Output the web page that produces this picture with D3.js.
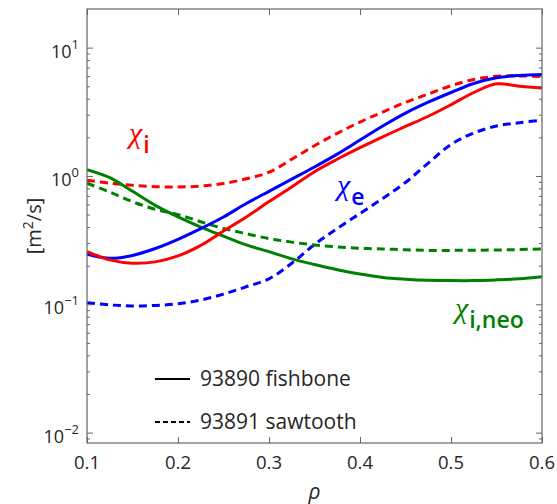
<!DOCTYPE html>
<html><head><meta charset="utf-8">
<script src="https://cdn.jsdelivr.net/npm/d3@7"></script>
<style>
body{margin:0;background:#fff;}
text{font-family:"Open Sans",sans-serif;}
</style></head>
<body>
<svg id="c" width="557" height="504"></svg>
<script>
const rho = [0.100,0.125,0.150,0.175,0.200,0.225,0.250,0.275,0.300,0.325,0.350,0.375,0.400,0.425,0.450,0.475,0.500,0.525,0.550,0.575,0.600];
const chiI_fish = [0.257,0.222,0.209,0.214,0.238,0.288,0.372,0.479,0.631,0.822,1.08,1.35,1.66,2.02,2.43,2.92,3.59,4.47,5.22,5.01,4.84];
const chiI_saw  = [0.926,0.88,0.845,0.825,0.82,0.835,0.875,0.95,1.07,1.35,1.72,2.15,2.63,3.15,3.75,4.35,5.05,5.65,5.98,6.02,5.95];
const chiE_fish = [0.246,0.228,0.24,0.272,0.321,0.389,0.479,0.61,0.759,0.944,1.175,1.48,1.905,2.45,3.09,3.76,4.47,5.25,5.82,6.07,6.17];
const chiE_saw  = [0.103,0.099,0.097,0.098,0.101,0.108,0.12,0.137,0.158,0.209,0.292,0.39,0.51,0.668,0.89,1.26,1.76,2.16,2.45,2.6,2.72];
const chiNeo_fish = [1.12,0.97,0.76,0.59,0.48,0.40,0.34,0.29,0.257,0.226,0.204,0.186,0.172,0.162,0.157,0.154,0.153,0.153,0.155,0.158,0.164];
const chiNeo_saw  = [0.877,0.75,0.63,0.55,0.50,0.44,0.39,0.355,0.325,0.305,0.29,0.28,0.273,0.27,0.266,0.263,0.263,0.264,0.265,0.267,0.27];
const xTicks = [0.1,0.2,0.3,0.4,0.5,0.6];
const yTickExps = [-2,-1,0,1];
const legendLabels = ["93890 fishbone","93891 sawtooth"];

const svg = d3.select("#c");
const L=87, R=542, T=9, B=443;
const x = d3.scaleLinear().domain([0.1,0.6]).range([L,R]);
const y = d3.scaleLog().domain([0.0083,20]).range([B,T]);

const series = [
  {v:chiI_saw, c:"#ff0000", d:true},
  {v:chiE_saw, c:"#0000ff", d:true},
  {v:chiNeo_saw, c:"#008000", d:true},
  {v:chiNeo_fish, c:"#008000", d:false},
  {v:chiE_fish, c:"#0000ff", d:false},
  {v:chiI_fish, c:"#ff0000", d:false},
];
svg.append("defs").append("clipPath").attr("id","clip").append("rect")
  .attr("x",L).attr("y",T).attr("width",R-L).attr("height",B-T);
const line = d3.line().x((d,i)=>x(rho[i])).y(d=>y(d)).curve(d3.curveCatmullRom.alpha(0.5));
const g = svg.append("g").attr("clip-path","url(#clip)");
series.forEach(s=>{
  g.append("path").attr("d",line(s.v)).attr("fill","none").attr("stroke",s.c)
   .attr("stroke-width",3).attr("stroke-dasharray",s.d?"8,5":null);
});

// axes
const axCol="#666";
const minor=[];
for(let e=-3;e<=1;e++) for(let k=2;k<=9;k++){const v=k*Math.pow(10,e); if(v>0.0083&&v<20) minor.push(v);}
const majors = yTickExps.map(e=>Math.pow(10,e));
function styleAx(sel){sel.select(".domain").remove(); sel.selectAll("line").attr("stroke",axCol); sel.selectAll("text").remove();}
svg.append("g").attr("transform",`translate(${L},0)`).call(d3.axisLeft(y).tickValues(majors).tickSize(-6)).call(styleAx);
svg.append("g").attr("transform",`translate(${L},0)`).call(d3.axisLeft(y).tickValues(minor).tickSize(-3)).call(styleAx);
svg.append("g").attr("transform",`translate(${R},0)`).call(d3.axisRight(y).tickValues(majors).tickSize(-6)).call(styleAx);
svg.append("g").attr("transform",`translate(${R},0)`).call(d3.axisRight(y).tickValues(minor).tickSize(-3)).call(styleAx);
svg.append("g").attr("transform",`translate(0,${B})`).call(d3.axisBottom(x).tickValues(xTicks).tickSize(-6)).call(styleAx);
svg.append("g").attr("transform",`translate(0,${T})`).call(d3.axisTop(x).tickValues(xTicks).tickSize(-6)).call(styleAx);
svg.append("rect").attr("x",L).attr("y",T).attr("width",R-L).attr("height",B-T)
  .attr("fill","none").attr("stroke",axCol).attr("stroke-width",1.2);

const txtCol="#262626";
// x tick labels
svg.selectAll(".xl").data(xTicks).enter().append("text")
  .attr("x",d=>x(d)).attr("y",B+26).attr("text-anchor","middle")
  .attr("font-size",18.5).attr("fill",txtCol).text(d=>d3.format(".1f")(d));
// y tick labels
yTickExps.forEach(e=>{
  const t = svg.append("text").attr("x",L-8).attr("y",y(Math.pow(10,e))+10)
    .attr("text-anchor","end").attr("font-size",18).attr("fill",txtCol);
  t.append("tspan").text("10");
  t.append("tspan").attr("font-size",13).attr("dy",-9).text(String(e).replace("-","\u2212"));
});
// axis labels
svg.append("text").attr("x",x(0.35)).attr("y",499).attr("text-anchor","middle")
  .attr("font-family","DejaVu Serif").attr("font-style","italic").attr("font-size",21).attr("fill",txtCol).text("ρ");
const yl = svg.append("text").attr("transform",`translate(41,${(T+B)/2}) rotate(-90)`)
  .attr("text-anchor","middle").attr("font-size",20).attr("fill",txtCol);
yl.append("tspan").text("[m");
yl.append("tspan").attr("font-size",14).attr("dy",-8).text("2");
yl.append("tspan").attr("dy",8).text("/s]");

// annotations
function chi(xp,yp,sub,col){
  const t=svg.append("text").attr("x",xp).attr("y",yp).attr("fill",col);
  t.append("tspan").attr("font-family","Liberation Serif").attr("font-style","italic").attr("font-size",30).text("χ");
  t.append("tspan").attr("font-size",23).attr("dy",10).attr("dx",1).attr("font-weight",600).text(sub);
}
chi(129,143,"i","#ff0000");
chi(337,195,"e","#0000ff");
chi(455,318,"i,neo","#008000");

// legend
const legY=[379,422];
legendLabels.forEach((lab,i)=>{
  svg.append("line").attr("x1",155).attr("x2",190).attr("y1",legY[i]).attr("y2",legY[i])
    .attr("stroke","#000").attr("stroke-width",2).attr("stroke-dasharray",i?"5,3":null);
  svg.append("text").attr("x",200).attr("y",legY[i]+7).attr("font-size",21).attr("fill",txtCol).text(lab);
});
</script>
</body></html>
